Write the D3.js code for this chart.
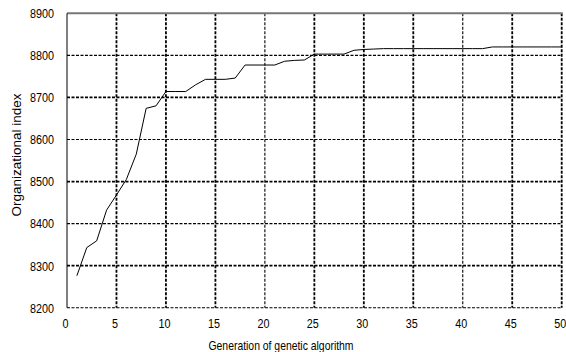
<!DOCTYPE html>
<html>
<head>
<meta charset="utf-8">
<script src="https://cdn.jsdelivr.net/npm/d3@7"></script>
<style>
  body { margin: 0; background: #fff; }
  .tick-label { font-family: "Liberation Sans", Arial, sans-serif; font-size: 13.5px; fill: #000; }
</style>
</head>
<body>
<div class="chart"></div>
<script>
// best organizational index per generation
var generations = d3.range(1, 51);
var orgIndex = [
  8276, 8343, 8359, 8432, 8468, 8505, 8565, 8674, 8680, 8714,
  8714, 8714, 8730, 8743, 8743, 8743, 8746, 8777, 8777, 8777,
  8777, 8786, 8788, 8789, 8803, 8803, 8803, 8803, 8812, 8814,
  8815, 8816, 8816, 8816, 8816, 8816, 8816, 8816, 8816, 8816,
  8816, 8816, 8820, 8820, 8820, 8820, 8820, 8820, 8820, 8820
];
var xTicks = [0, 5, 10, 15, 20, 25, 30, 35, 40, 45, 50];
var yTicks = [8200, 8300, 8400, 8500, 8600, 8700, 8800, 8900];

function init() {
  var width = 566,
      height = 352,
      left = 67,
      right = 561.7,
      top = 13.3,
      bottom = 307.7,
      narrow = 0.8;   // no narrow font installed, squeeze instead

  var svg = d3.select('.chart')
    .append('svg')
      .attr('width', width)
      .attr('height', height);

  var x = d3.scaleLinear().domain([0, 50]).range([left, right]);
  var y = d3.scaleLinear().domain([8200, 8900]).range([bottom, top]);

  // horizontal grid
  svg.selectAll('line.hgrid')
    .data(yTicks.filter(function(d) { return d < 8900; }))
    .enter().append('line')
      .attr('class', 'hgrid')
      .attr('x1', left)
      .attr('x2', right)
      .attr('y1', function(d) { return y(d); })
      .attr('y2', function(d) { return y(d); })
      .attr('stroke', '#000')
      .attr('stroke-width', function(d) { return (d / 100) % 2 === 1 ? 1.8 : 1.1; })
      .attr('stroke-dasharray', '3,1.5');

  // vertical grid
  svg.selectAll('line.vgrid')
    .data(xTicks.filter(function(d) { return d > 0; }))
    .enter().append('line')
      .attr('class', 'vgrid')
      .attr('x1', function(d) { return x(d); })
      .attr('x2', function(d) { return x(d); })
      .attr('y1', top)
      .attr('y2', bottom)
      .attr('stroke', '#000')
      .attr('stroke-width', function(d) { return (d === 20 || d === 40) ? 1.1 : 1.8; })
      .attr('stroke-dasharray', '3,1.5');

  // top border and left axis
  svg.append('line')
      .attr('x1', left).attr('x2', right + 1)
      .attr('y1', top).attr('y2', top)
      .attr('stroke', '#777')
      .attr('stroke-width', 2);
  svg.append('line')
      .attr('x1', left).attr('x2', left)
      .attr('y1', top).attr('y2', bottom)
      .attr('stroke', '#000')
      .attr('stroke-width', 1);

  // tick labels
  svg.selectAll('text.ytick')
    .data(yTicks)
    .enter().append('text')
      .attr('class', 'tick-label')
      .attr('transform', function(d) {
        return 'translate(54, ' + y(d) + ') scale(' + narrow + ', 1)';
      })
      .attr('dy', '0.36em')
      .attr('text-anchor', 'end')
      .text(function(d) { return d; });

  svg.selectAll('text.xtick')
    .data(xTicks)
    .enter().append('text')
      .attr('class', 'tick-label')
      .attr('transform', function(d) {
        return 'translate(' + (x(d) - 1.5) + ', 328) scale(' + narrow + ', 1)';
      })
      .attr('text-anchor', 'middle')
      .text(function(d) { return d; });

  // axis titles
  svg.append('text')
      .attr('transform', 'translate(20.5, 155) rotate(-90)')
      .attr('text-anchor', 'middle')
      .style('font-family', '"Liberation Sans", Arial, sans-serif')
      .style('font-size', '13.5px')
      .text('Organizational index');

  svg.append('text')
      .attr('transform', 'translate(281, 350) scale(' + narrow + ', 1)')
      .attr('text-anchor', 'middle')
      .style('font-family', '"Liberation Sans", Arial, sans-serif')
      .style('font-size', '13px')
      .text('Generation of genetic algorithm');

  // data line
  var line = d3.line()
    .x(function(d, i) { return x(generations[i]); })
    .y(function(d) { return y(d); });

  svg.append('path')
      .datum(orgIndex)
      .attr('d', line)
      .attr('fill', 'none')
      .attr('stroke', '#000')
      .attr('stroke-width', 1);
}

d3.select(window).on('load', init);
</script>
</body>
</html>
